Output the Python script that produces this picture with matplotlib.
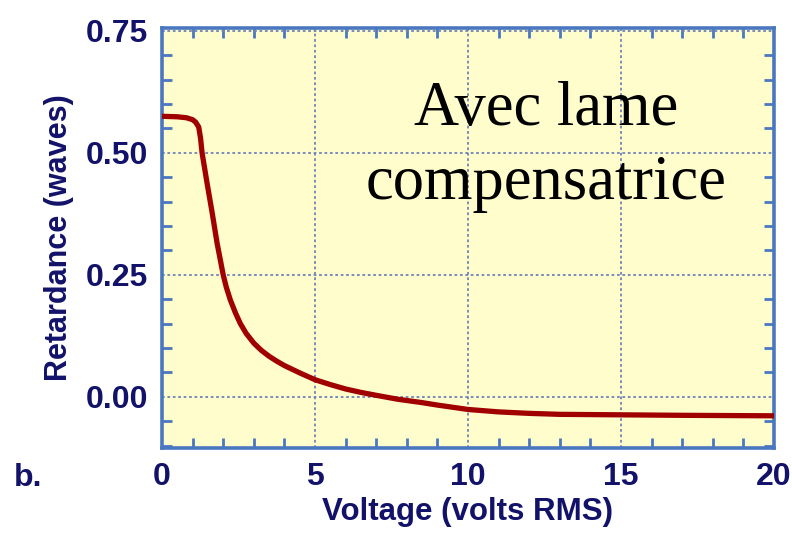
import matplotlib
matplotlib.use("Agg")
import matplotlib.pyplot as plt
from matplotlib.ticker import MultipleLocator

# Retardance vs. drive voltage with compensator plate
voltage = [0, 0.5, 0.8, 1.0, 1.1, 1.2, 1.26, 1.31, 1.47, 1.64, 1.8, 2.0, 2.1,
           2.23, 2.4, 2.56, 2.75, 3.0, 3.25, 3.5, 3.75, 4.0, 4.5, 5.0, 5.5,
           6.0, 6.5, 7.0, 7.7, 8.5, 9.0, 10, 11, 12, 13, 15, 17, 20]
retardance = [0.575, 0.574, 0.572, 0.568, 0.563, 0.553, 0.530, 0.500, 0.439,
              0.377, 0.315, 0.250, 0.225, 0.199, 0.172, 0.150, 0.130, 0.110,
              0.095, 0.083, 0.073, 0.064, 0.049, 0.035, 0.025, 0.016, 0.009,
              0.003, -0.005, -0.012, -0.017, -0.026, -0.031, -0.034, -0.036,
              -0.037, -0.038, -0.039]

x_ticks = [0, 5, 10, 15, 20]
x_tick_labels = ["0", "5", "10", "15", "20"]
y_ticks = [0.0, 0.25, 0.5, 0.75]
y_tick_labels = ["0.00", "0.25", "0.50", "0.75"]

navy = "#12126a"
axis_blue = "#4a78c0"
grid_blue = "#6f84b4"
curve_red = "#a00000"
panel_bg = "#fffdcc"

fig = plt.figure(figsize=(7.92, 5.42), dpi=100)
ax = fig.add_axes([162 / 792, (542 - 448) / 542, 612 / 792, 420 / 542])
ax.set_facecolor(panel_bg)

ax.plot(voltage, retardance, color=curve_red, lw=3.8, solid_capstyle="butt",
        solid_joinstyle="round", zorder=3)

ax.set_xlim(0, 20)
ax.set_ylim(-0.105, 0.756)

ax.set_xticks(x_ticks)
ax.set_xticklabels(x_tick_labels)
ax.set_yticks(y_ticks)
ax.set_yticklabels(y_tick_labels)
ax.xaxis.set_minor_locator(MultipleLocator(1))
ax.yaxis.set_minor_locator(MultipleLocator(0.05))

ax.grid(True, which="major", color=grid_blue, linestyle=(0, (1.5, 1.5)), lw=1.3)

for s in ax.spines.values():
    s.set_color(axis_blue)
    s.set_linewidth(2.6)

ax.tick_params(which="both", direction="in", top=True, right=True,
               color=axis_blue, width=2.0)
ax.tick_params(which="major", length=0)
ax.tick_params(axis="x", which="major", pad=10)
ax.tick_params(axis="y", which="major", pad=10)
ax.tick_params(which="minor", length=7)
ax.tick_params(axis="both", which="major", labelsize=23, labelcolor=navy)
for lbl in ax.get_xticklabels() + ax.get_yticklabels():
    lbl.set_fontweight("bold")
    lbl.set_family("Liberation Sans")

ax.set_xlabel("Voltage (volts RMS)", fontsize=22.5, fontweight="bold",
              color=navy, family="Liberation Sans", labelpad=4)
ax.set_ylabel("Retardance (waves)", fontsize=22, fontweight="bold",
              color=navy, family="Liberation Sans", labelpad=8)

fig.text(28 / 792, 1 - 478 / 542, "b.", fontsize=23, fontweight="bold",
         color=navy, family="Liberation Sans", ha="center", va="center")

ax.text(0.628, 1 - (110 - 28) / 420, "Avec lame", transform=ax.transAxes,
        fontsize=45, family="Liberation Serif", color="black",
        ha="center", va="center")
ax.text(0.628, 1 - (184 - 28) / 420, "compensatrice", transform=ax.transAxes,
        fontsize=45, family="Liberation Serif", color="black",
        ha="center", va="center")

fig.savefig("out.png", dpi=100)
